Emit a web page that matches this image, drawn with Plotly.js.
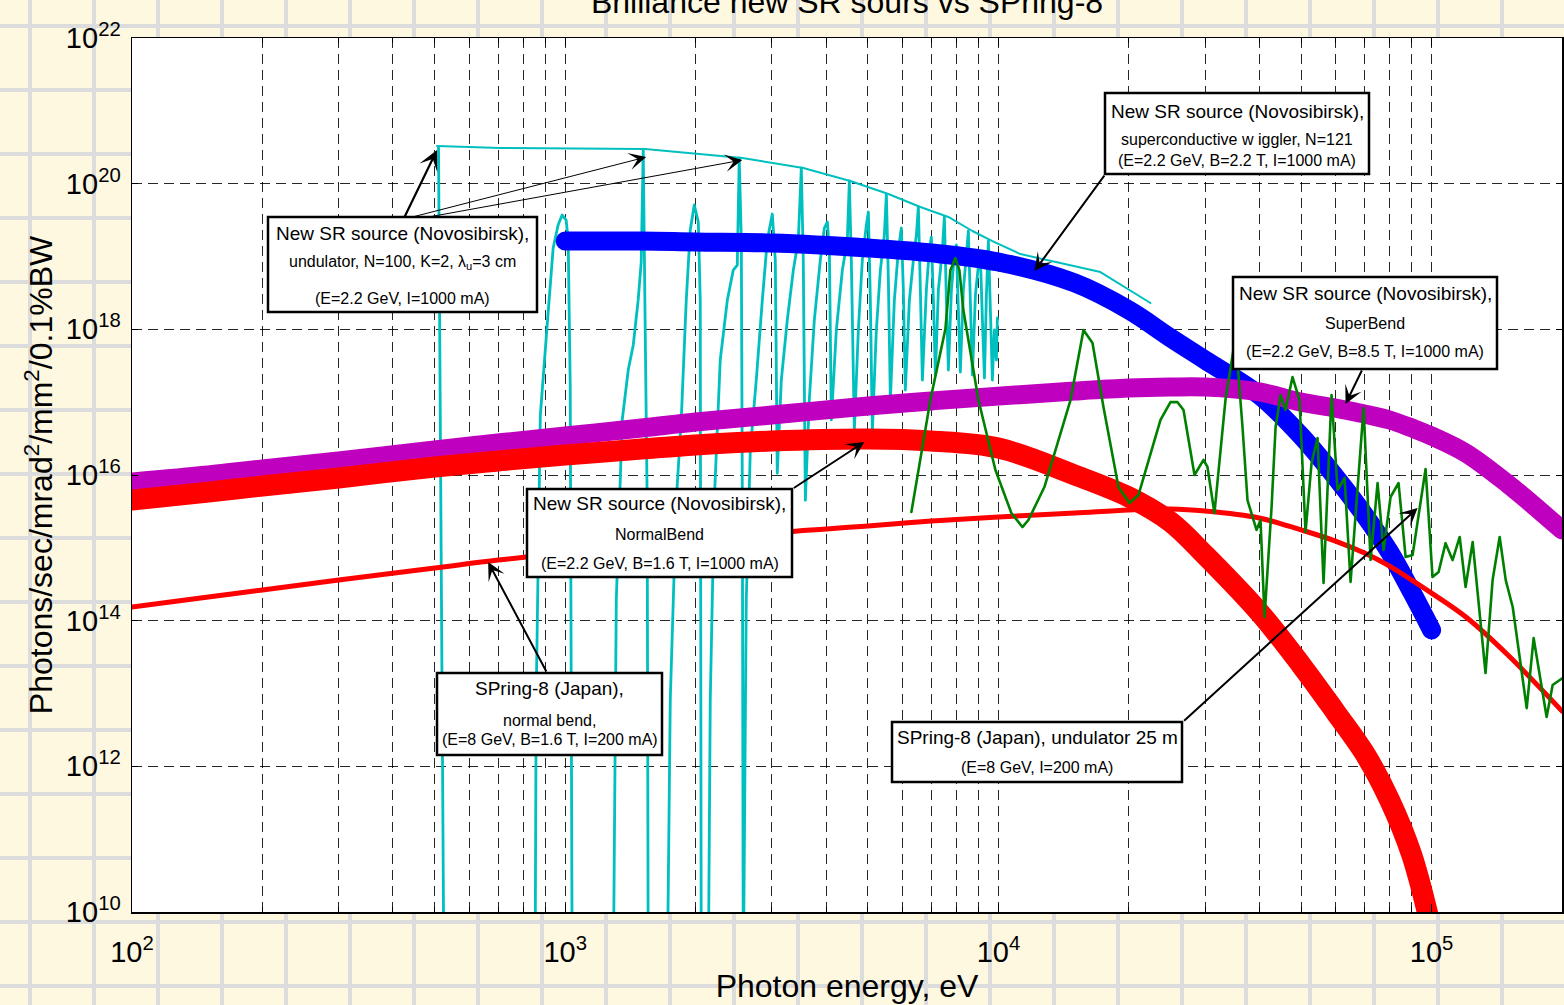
<!DOCTYPE html>
<html>
<head>
<meta charset="utf-8">
<script src="https://cdn.plot.ly/plotly-3.0.1.min.js"></script>
<style>
  html, body { margin: 0; padding: 0; }
  body {
    width: 1564px; height: 1005px; overflow: hidden;
    background-color: #fff8e1;
    background-image:
      linear-gradient(to right, #dcdcdc 4px, transparent 4px),
      linear-gradient(to bottom, #dcdcdc 4px, transparent 4px);
    background-size: 64px 64px;
    background-position: 28px 24px;
  }
  #chart { width: 1564px; height: 1005px; }
  .scatterlayer path.js-line { stroke-linecap: round; stroke-linejoin: round; }
</style>
</head>
<body>
<div id="chart"></div>
<script>
// ---- Spectral brilliance data (photon energy in eV, brilliance in photons/sec/mrad^2/mm^2/0.1%BW) ----

// Common energy grid for the bending-magnet type sources
const energyGrid = [100, 150, 200, 300, 500, 700, 1000, 1500, 2000, 3000, 5000, 7000,
  10000, 15000, 20000, 25000, 30000, 40000, 50000, 60000, 70000, 80000, 90000,
  100000, 120000, 150000, 200000];

// New SR source (Novosibirsk), SuperBend, B = 8.5 T
const superBendB = [8.0e15, 1.0e16, 1.21e16, 1.56e16, 2.2e16, 2.75e16, 3.43e16, 4.42e16, 5.34e16, 6.66e16,
  8.85e16, 1.04e17, 1.21e17, 1.42e17, 1.56e17, 1.61e17, 1.61e17, 1.38e17, 1.0e17, 8.3e16,
  6.88e16, 5.69e16, 4.42e16, 3.43e16, 2.0e16, 7.52e15, 1.76e15];

// New SR source (Novosibirsk), NormalBend, B = 1.6 T
const normalBendE = [100, 150, 200, 300, 500, 700, 1000, 1500, 2000, 3000, 5000, 7000,
  10000, 15000, 20000, 25000, 30000, 40000, 50000, 60000, 70000, 80000, 90000, 100000];
const normalBendB = [4.53e15, 5.83e15, 7.06e15, 9.1e15, 1.29e16, 1.56e16, 1.88e16, 2.27e16, 2.58e16, 2.93e16,
  3.12e16, 2.93e16, 2.34e16, 1.0e16, 4.99e15, 2.26e15, 7.97e14, 1.31e14, 2.46e13, 5.57e12,
  1.52e12, 3.44e11, 6.06e10, 5.65e9];

// New SR source (Novosibirsk), superconductive wiggler, N = 121
const wigglerE = [1000, 1500, 2000, 3000, 5000, 7000, 10000, 15000, 20000, 25000, 30000,
  40000, 50000, 60000, 70000, 80000, 90000, 100000];
const wigglerB = [1.63e19, 1.63e19, 1.58e19, 1.53e19, 1.31e19, 1.12e19, 8.4e18, 4.33e18, 1.84e18, 7.6e17,
  3.79e17, 1.25e17, 3.43e16, 9.38e15, 2.82e15, 8.75e14, 2.47e14, 7.43e13];

// SPring-8 (Japan), normal bend, E = 8 GeV
const spring8BendB = [1.54e14, 2.11e14, 2.64e14, 3.61e14, 5.28e14, 6.8e14, 8.49e14, 1.09e15, 1.28e15, 1.6e15,
  1.99e15, 2.33e15, 2.65e15, 3.0e15, 3.3e15, 3.41e15, 3.2e15, 2.57e15, 1.76e15, 1.24e15,
  8.49e14, 5.62e14, 3.61e14, 2.39e14, 1.12e14, 3.37e13, 5.74e12];

// SPring-8 (Japan), undulator 25 m
const spring8UndE = [6297, 6966, 7545, 7748, 7957, 8127, 8301, 8993, 9843, 10715,
  11360, 11730, 12770, 14670, 15720, 16490, 17480, 18930, 20070, 21050,
  23670, 24960, 25910, 26750, 28360, 29750, 30380, 31530, 33430, 35260,
  36600, 37590, 39430, 40280, 41150, 42720, 43640, 44810, 46010, 47750,
  49560, 51170, 52830, 54540, 56310, 58760, 60670, 62970, 65010, 69660,
  72290, 75040, 77470, 80400, 83890, 87100, 90390, 96860, 100500, 103800,
  107700, 111800, 116100, 119800, 124400, 133200, 138300, 143600, 148300, 153900,
  165800, 172000, 184300, 190300, 200700];
const spring8UndB = [3.1e15, 1.07e17, 1.01e18, 6.5e18, 9.5e18, 6.5e18, 1.84e18, 1.07e17, 1.17e16, 3.0e15,
  1.93e15, 2.41e15, 6.84e15, 1.07e17, 9.8e17, 6.49e17, 8.57e16, 6.84e15, 4.12e15, 5.31e15,
  5.7e16, 1.0e17, 1.0e17, 7.8e16, 1.0e16, 1.61e16, 1.29e16, 3.0e15, 1.07e17, 7.85e17,
  4.56e16, 4.5e15, 1.76e15, 2.41e15, 1.12e14, 3.63e15, 4.56e16, 1.25e17, 7.8e16, 2.21e17,
  1.07e17, 1.65e15, 1.46e16, 3.22e16, 3.29e14, 1.25e17, 6.22e15, 9.1e15, 3.4e14, 8.3e16,
  6.8e14, 7.76e15, 9.33e14, 4.99e15, 7.76e15, 7.48e14, 7.97e14, 1.21e16, 3.97e14, 4.66e14,
  1.16e15, 6.8e14, 1.41e15, 2.9e14, 1.2e15, 1.91e13, 3.61e14, 1.41e15, 3.61e14, 1.54e14,
  6.3e12, 5.78e13, 4.75e12, 1.31e13, 1.63e13];

// New SR source (Novosibirsk), undulator N=100, K=2, lambda_u = 3 cm: harmonic spectrum
const undulatorE = [510, 525, 852, 857, 876, 909, 938, 963, 984, 1005,
  1016, 1027, 1038, 1291, 1312, 1354, 1398, 1436, 1474, 1498,
  1514, 1530, 1546, 1555, 1720, 1748, 1805, 1853, 1903, 1944,
  1986, 2029, 2050, 2061, 2139, 2162, 2209, 2280, 2367, 2443,
  2496, 2522, 2550, 2564, 2577, 2618, 2675, 2761, 2851, 2928,
  3007, 3055, 3087, 3154, 3256, 3362, 3452, 3508, 3545, 3584,
  3660, 3759, 3881, 3965, 4029, 4072, 4115, 4226, 4363, 4480,
  4528, 4576, 4650, 4750, 4852, 4957, 5010, 5063, 5117, 5227,
  5340, 5455, 5513, 5572, 5632, 5752, 5876, 5970, 6034, 6098,
  6230, 6364, 6466, 6535, 6605, 6676, 6819, 6928, 7003, 7079,
  7154, 7269, 7425, 7505, 7585, 7666, 7790, 7915, 7998, 8083,
  8169, 8301, 8435, 8524, 8615, 8710, 8850, 8993, 9089, 9186,
  9285, 9383, 9482, 9583, 9685, 9790, 9895, 9947];
const undulatorB = [3.2e20, 1e9, 1e9, 8.1e12, 6.5e16, 1.18e18, 1.31e19, 2.71e19, 3.71e19, 3.17e19,
  1.68e19, 1.72e17, 1e9, 1e9, 1.92e14, 5.69e16, 2.76e17, 6.09e17, 2.53e18, 8.4e18,
  2.9e20, 9.8e17, 4.5e15, 1e9, 1e9, 8.1e12, 4.5e15, 5.7e16, 2.5e18, 2.31e19,
  5.1e19, 2.98e19, 2.5e18, 1e9, 1e9, 8.1e12, 4.5e15, 3.79e17, 2.5e18, 6.5e18,
  7.6e18, 2.25e20, 1.68e19, 4.5e15, 1e9, 1.92e14, 2.2e16, 2.01e17, 2.5e18, 1.68e19,
  3.83e19, 8.95e18, 1.06e16, 2.01e17, 1.34e18, 6.5e18, 1.68e19, 1.64e20, 8.95e18, 4.5e15,
  1.07e17, 1.34e18, 8.95e18, 2.46e19, 2.98e19, 1.23e19, 5.7e16, 9.8e17, 6.5e18, 1.68e19,
  1.09e20, 8.95e18, 4.15e16, 9.8e17, 8.95e18, 2.71e19, 4.08e19, 2.5e18, 4.0e16, 9.8e17,
  6.5e18, 1.97e19, 7.2e19, 4.75e18, 1.07e17, 2.5e18, 1.23e19, 2.46e19, 3.47e18, 1.47e17,
  2.5e18, 8.95e18, 1.97e19, 4.79e19, 3.47e18, 2.01e17, 3.47e18, 1.23e19, 1.85e19, 2.5e18,
  2.36e17, 3.47e18, 1.23e19, 3.49e19, 2.5e18, 2.76e17, 3.47e18, 1.05e19, 1.44e19, 1.84e18,
  2.59e17, 3.47e18, 1.05e19, 2.24e19, 2.5e18, 2.36e17, 2.96e18, 7.6e18, 9.5e18, 1.34e18,
  2.15e17, 2.96e18, 1.63e19, 1.84e18, 2.01e17, 9.8e17, 3.79e17, 1.43e18];

// Envelope through the odd-harmonic peaks of the undulator
const envelopeE = [506, 708, 1530, 2564, 3545, 4551, 5572, 6605, 7664, 8709, 9686, 11240, 17200, 22440];
const envelopeB = [3.29e20, 3.09e20, 2.99e20, 2.25e20, 1.64e20, 1.09e20, 7.21e19, 4.79e19, 3.49e19, 2.24e19,
  1.63e19, 1.08e19, 6.12e18, 2.3e18];

// Axis ticks
const xDecades = [100, 1000, 10000, 100000];
const yTickVals = [1e10, 1e12, 1e14, 1e16, 1e18, 1e20, 1e22];

// Label texts of the callout boxes
const labelUndulator = ['New SR source (Novosibirsk),', 'undulator, N=100, K=2, λ<sub>u</sub>=3 cm', '(E=2.2 GeV, I=1000 mA)'];
const labelWiggler = ['New SR source (Novosibirsk),', 'superconductive w iggler, N=121', '(E=2.2 GeV, B=2.2 T, I=1000 mA)'];
const labelSuperBend = ['New SR source (Novosibirsk),', 'SuperBend', '(E=2.2 GeV, B=8.5 T, I=1000 mA)'];
const labelNormalBend = ['New SR source (Novosibirsk),', 'NormalBend', '(E=2.2 GeV, B=1.6 T, I=1000 mA)'];
const labelSpring8Bend = ['SPring-8 (Japan),', 'normal bend,', '(E=8 GeV, B=1.6 T, I=200 mA)'];
const labelSpring8Und = ['SPring-8 (Japan), undulator 25 m', '(E=8 GeV, I=200 mA)'];

// ---- Figure geometry ----
const W = 1564, H = 1005;
const M = { l: 132, r: 2, t: 38, b: 93 };
const plotW = W - M.l - M.r, plotH = H - M.t - M.b;
const px = v => (v - M.l) / plotW;          // page x -> paper x
const py = v => (H - M.b - v) / plotH;      // page y -> paper y
const FONT = 'Liberation Sans, Arial, Helvetica, sans-serif';

// x ticks: labelled decades, plus minor 2..9 multiples carrying the dashed grid
const xTickText = xDecades.map(d => '10<sup>' + Math.round(Math.log10(d)) + '</sup>');
const xMinorVals = [];
xDecades.forEach(d => {
  for (let m = 2; m <= 9; m++) {
    if (d * m <= 200000) xMinorVals.push(d * m);
  }
});
const yTickText = yTickVals.map(v => '10<sup>' + Math.round(Math.log10(v)) + '</sup>');

function lineTrace(x, y, color, width, smooth) {
  const line = { color, width, simplify: false };
  if (smooth) { line.shape = 'spline'; line.smoothing = 1; }
  return { type: 'scatter', mode: 'lines', x, y, line, hoverinfo: 'skip', showlegend: false };
}

const traces = [
  lineTrace(envelopeE, envelopeB, '#00bfbf', 2, false),
  lineTrace(undulatorE, undulatorB, '#00bfbf', 2.8, false),
  lineTrace(wigglerE, wigglerB, '#0000ff', 19, true),
  lineTrace(energyGrid, superBendB, '#bf00bf', 19, true),
  lineTrace(normalBendE, normalBendB, '#ff0000', 21, true),
  lineTrace(energyGrid, spring8BendB, '#ff0000', 5, true),
  lineTrace(spring8UndE, spring8UndB, '#008000', 2.6, false)
];

// ---- Callout boxes ----
const boxDefs = [
  { rect: [268, 217, 537, 312], lines: labelUndulator, ys: [233, 262, 298] },
  { rect: [1105, 93, 1369, 174], lines: labelWiggler, ys: [112, 139, 160] },
  { rect: [1233, 277, 1497, 369], lines: labelSuperBend, ys: [293, 323, 352] },
  { rect: [527, 489, 792, 577], lines: labelNormalBend, ys: [503, 534, 563] },
  { rect: [437, 673, 662, 755], lines: labelSpring8Bend, ys: [688, 720, 739] },
  { rect: [892, 722, 1182, 782], lines: labelSpring8Und, ys: [737, 767] }
];

const shapes = [];
const annotations = [];
boxDefs.forEach(b => {
  const [x0, y0, x1, y1] = b.rect;
  shapes.push({ type: 'rect', layer: 'above', xref: 'paper', yref: 'paper',
    x0: px(x0), x1: px(x1), y0: py(y1), y1: py(y0),
    fillcolor: '#ffffff', line: { color: '#000000', width: 2.5 } });
  b.lines.forEach((t, i) => {
    annotations.push({ xref: 'paper', yref: 'paper', x: px((x0 + x1) / 2), y: py(b.ys[i]),
      xanchor: 'center', yanchor: 'middle', showarrow: false, text: t,
      font: { family: FONT, size: i === 0 ? 19 : 16, color: '#000' } });
  });
});

// Arrows from the boxes to the curves (heads in data units, tails as pixel offsets)
function arrow(E, B, ax, ay, width) {
  return { x: Math.log10(E), y: Math.log10(B), xref: 'x', yref: 'y', text: '',
    showarrow: true, arrowhead: 3, arrowsize: width > 1.5 ? 1.5 : 2.9, arrowwidth: width,
    arrowcolor: '#000', ax, ay, standoff: 0 };
}
annotations.push(
  arrow(506, 2.9e20, -33, 68, 2.2),
  arrow(1538, 2.32e20, -234, 60, 1),
  arrow(2564, 2.11e20, -314, 57, 1),
  arrow(12110, 6.3e18, 71, -97, 2),
  arrow(63300, 9.44e16, 17, -35, 2),
  arrow(4904, 2.84e16, -72, 47, 2),
  arrow(664, 6.38e14, 59, 111, 2),
  arrow(92840, 3.52e15, -235, 214, 2)
);

const GRID_COLOR = 'rgba(0,0,0,0.85)';
const GRID_DASH = '10px,6px';

const layout = {
  width: W, height: H,
  margin: M,
  paper_bgcolor: 'rgba(0,0,0,0)',
  plot_bgcolor: '#ffffff',
  font: { family: FONT, color: '#000' },
  showlegend: false,
  title: { text: 'Brilliance new SR sours vs SPring-8', font: { family: FONT, size: 32, color: '#000' },
           xref: 'paper', x: 0.5, xanchor: 'center', yref: 'container', y: 0.998, yanchor: 'middle' },
  xaxis: {
    type: 'log', range: [2, Math.log10(200000)],
    tickmode: 'array', tickvals: xDecades, ticktext: xTickText,
    tickfont: { family: FONT, size: 29, color: '#000' },
    ticks: 'inside', ticklen: 8, tickcolor: '#000', tickwidth: 1,
    showgrid: true, gridcolor: GRID_COLOR, gridwidth: 1, griddash: GRID_DASH,
    minor: { tickmode: 'array', tickvals: xMinorVals, ticks: 'inside', ticklen: 5, tickcolor: '#000',
             showgrid: true, gridcolor: GRID_COLOR, gridwidth: 1, griddash: GRID_DASH },
    showline: true, linecolor: '#000', linewidth: 1.5, mirror: 'ticks', zeroline: false,
    ticklabelstandoff: 14,
    title: { text: 'Photon energy, eV', font: { family: FONT, size: 32, color: '#000' }, standoff: 4 }
  },
  yaxis: {
    type: 'log', range: [10, 22],
    tickmode: 'array', tickvals: yTickVals, ticktext: yTickText,
    tickfont: { family: FONT, size: 29, color: '#000' },
    ticks: 'inside', ticklen: 6, tickcolor: '#000', tickwidth: 1,
    showgrid: true, gridcolor: GRID_COLOR, gridwidth: 1, griddash: GRID_DASH,
    showline: true, linecolor: '#000', linewidth: 1.5, mirror: 'ticks', zeroline: false,
    ticklabelstandoff: 4,
    title: { text: 'Photons/sec/mrad<sup>2</sup>/mm<sup>2</sup>/0.1%BW', font: { family: FONT, size: 32, color: '#000' }, standoff: 3 }
  },
  shapes, annotations
};

Plotly.newPlot('chart', traces, layout, { staticPlot: true, displayModeBar: false });
</script>
</body>
</html>
